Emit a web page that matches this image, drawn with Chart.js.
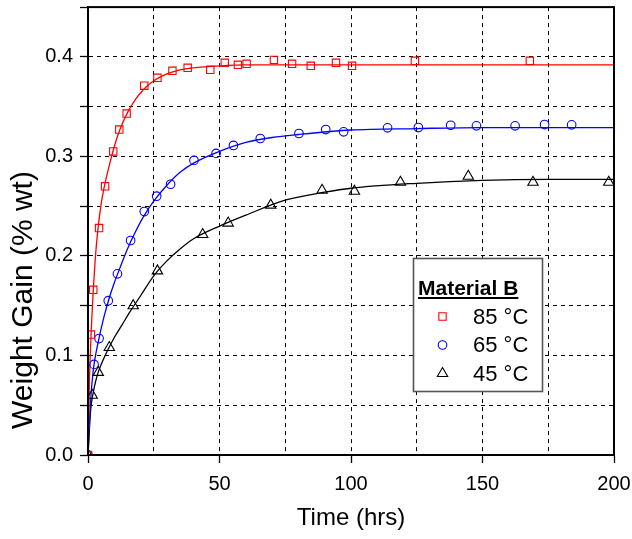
<!DOCTYPE html>
<html>
<head>
<meta charset="utf-8">
<script src="https://cdn.jsdelivr.net/npm/chart.js@4/dist/chart.umd.min.js"></script>
<style>
  html, body { margin: 0; padding: 0; background: #fff; }
  #wrap { width: 632px; height: 539px; }
</style>
</head>
<body>
<div id="wrap"><canvas id="c" width="632" height="539"></canvas></div>
<script>
// Measured weight gain (% wt) against exposure time (hrs)
const t85 = [0, 1.1, 2.0, 4.2, 6.5, 9.6, 11.9, 14.7, 21.4, 26.4, 32.1, 37.9, 46.5, 52.0, 57.0, 60.3, 70.7, 77.6, 84.7, 94.3, 100.4, 124.3, 168.0];
const w85 = [0, 0.121, 0.166, 0.228, 0.270, 0.305, 0.327, 0.343, 0.371, 0.379, 0.386, 0.389, 0.387, 0.394, 0.392, 0.393, 0.397, 0.393, 0.391, 0.394, 0.391, 0.396, 0.396];

const t65 = [0, 2.3, 4.2, 7.7, 11.2, 16.2, 21.4, 26.1, 31.4, 40.3, 48.7, 55.3, 65.5, 80.2, 90.4, 97.2, 113.9, 125.6, 137.9, 147.7, 162.4, 173.6, 183.9];
const w65 = [0, 0.091, 0.117, 0.155, 0.182, 0.2155, 0.2446, 0.260, 0.272, 0.296, 0.303, 0.311, 0.318, 0.323, 0.327, 0.3247, 0.3287, 0.329, 0.3313, 0.3307, 0.3307, 0.332, 0.3317];

const t45 = [0, 1.6, 3.9, 8.1, 17.2, 26.4, 43.6, 53.3, 69.5, 89.0, 101.3, 118.8, 144.6, 169.2, 198.0];
const w45 = [0, 0.060, 0.083, 0.108, 0.150, 0.185, 0.2215, 0.233, 0.251, 0.266, 0.265, 0.274, 0.280, 0.274, 0.274];

// Fitted uptake curves
const fitT85 = [0, 0.5, 1, 2, 3, 4, 5, 6, 8, 10, 12, 15, 18, 21, 25, 30, 35, 40, 50, 60, 80, 100, 150, 200];
const fitW85 = [0, 0.07, 0.11, 0.165, 0.205, 0.232, 0.252, 0.267, 0.290, 0.310, 0.326, 0.344, 0.357, 0.367, 0.376, 0.383, 0.387, 0.389, 0.391, 0.392, 0.392, 0.392, 0.392, 0.392];

const fitT65 = [0, 1, 2, 3, 4, 6, 8, 10, 12, 15, 18, 21, 25, 30, 35, 40, 50, 60, 70, 80, 100, 125, 150, 200];
const fitW65 = [0, 0.055, 0.085, 0.102, 0.115, 0.138, 0.157, 0.173, 0.187, 0.207, 0.224, 0.239, 0.255, 0.271, 0.284, 0.293, 0.305, 0.314, 0.319, 0.322, 0.3265, 0.328, 0.329, 0.329];

const fitT45 = [0, 1, 2, 3, 4, 6, 8, 10, 13, 16, 20, 25, 30, 35, 40, 50, 60, 75, 90, 100, 125, 150, 175, 200];
const fitW45 = [0, 0.045, 0.063, 0.075, 0.084, 0.097, 0.108, 0.118, 0.131, 0.144, 0.160, 0.180, 0.195, 0.207, 0.217, 0.230, 0.241, 0.256, 0.264, 0.268, 0.273, 0.276, 0.277, 0.277];

const seriesLabels = ['85 °C', '65 °C', '45 °C'];
const legendTitle = 'Material B';
const xTitle = 'Time (hrs)';
const yTitle = 'Weight Gain (% wt)';

const FONT = '"Liberation Sans", Arial, sans-serif';
const pts = (xs, ys) => xs.map((x, i) => ({ x: x, y: ys[i] }));

function markerSet(label, xs, ys, color, style, r) {
  return {
    label: label, data: pts(xs, ys), showLine: false,
    pointStyle: style, pointRadius: r, pointBorderColor: color,
    pointBackgroundColor: 'rgba(0,0,0,0)', pointBorderWidth: 1.1,
    borderColor: color, backgroundColor: 'rgba(0,0,0,0)', order: 1
  };
}
function fitSet(xs, ys, color) {
  return {
    data: pts(xs, ys), showLine: true, pointRadius: 0, borderColor: color,
    borderWidth: 1.3, cubicInterpolationMode: 'monotone', fill: false, order: 2
  };
}

const datasets = [
  fitSet(fitT85, fitW85, '#ff0000'),
  fitSet(fitT65, fitW65, '#0000ff'),
  fitSet(fitT45, fitW45, '#000000'),
  markerSet(seriesLabels[0], t85, w85, '#ff0000', 'rect', 5.2),
  markerSet(seriesLabels[1], t65, w65, '#0000ff', 'circle', 4.3),
  markerSet(seriesLabels[2], t45, w45, '#000000', 'triangle', 6)
];

// Closed frame around the plotting area, plus the rotated y-axis title
const framePlugin = {
  id: 'frame',
  afterDatasetsDraw(chart) {
    const { ctx, chartArea: a } = chart;
    ctx.save();
    ctx.strokeStyle = '#000';
    ctx.lineWidth = 2;
    ctx.strokeRect(a.left, a.top, a.right - a.left, a.bottom - a.top);
    ctx.restore();

    ctx.save();
    ctx.translate(24, 300);
    ctx.rotate(-Math.PI / 2);
    ctx.fillStyle = '#000';
    ctx.font = '30px ' + FONT;
    ctx.textAlign = 'center';
    ctx.textBaseline = 'middle';
    ctx.fillText(yTitle, 0, 0);
    ctx.restore();
  }
};

// Boxed key with an underlined heading
const keyPlugin = {
  id: 'key',
  afterDraw(chart) {
    const ctx = chart.ctx;
    const box = { x: 413.5, y: 258.5, w: 129, h: 133 };
    ctx.save();
    ctx.fillStyle = '#fff';
    ctx.fillRect(box.x, box.y, box.w, box.h);
    ctx.strokeStyle = '#555';
    ctx.lineWidth = 1.6;
    ctx.strokeRect(box.x, box.y, box.w, box.h);

    ctx.fillStyle = '#000';
    ctx.font = 'bold 21px ' + FONT;
    ctx.textBaseline = 'alphabetic';
    ctx.textAlign = 'left';
    ctx.fillText(legendTitle, 418, 295);
    const tw = ctx.measureText(legendTitle).width;
    ctx.fillRect(418, 297, tw, 2);

    ctx.font = '22px ' + FONT;
    ctx.textBaseline = 'middle';
    const rows = [316.5, 345, 373.5];
    const marks = chart.data.datasets.filter(d => d.label);
    marks.forEach((d, i) => {
      ctx.strokeStyle = d.pointBorderColor;
      ctx.fillStyle = 'rgba(0,0,0,0)';
      ctx.lineWidth = 1.1;
      Chart.helpers.drawPoint(ctx, { pointStyle: d.pointStyle, radius: d.pointRadius, rotation: 0, borderWidth: 1.1 }, 442.5, rows[i]);
      ctx.fillStyle = '#000';
      ctx.fillText(d.label, 473, rows[i] + 1);
    });
    ctx.restore();
  }
};

new Chart(document.getElementById('c'), {
  type: 'scatter',
  data: { datasets: datasets },
  plugins: [framePlugin, keyPlugin],
  options: {
    responsive: false,
    animation: false,
    events: [],
    layout: { padding: { top: 7, right: 18, left: 0, bottom: 0 } },
    plugins: { legend: { display: false }, tooltip: { enabled: false } },
    scales: {
      x: {
        type: 'linear', min: 0, max: 200,
        afterFit: s => { s.height = 84; s.paddingLeft = 0; s.paddingRight = 0; },
        ticks: {
          stepSize: 25, autoSkip: false, maxRotation: 0, padding: 9,
          color: '#000', font: { family: FONT, size: 20 },
          callback: v => (v % 50 === 0 ? String(v) : '')
        },
        grid: {
          color: '#000', lineWidth: 1, tickLength: 8, tickWidth: 1.3,
          tickColor: c => (c.tick && c.tick.value % 50 === 0 ? '#000' : 'rgba(0,0,0,0)')
        },
        border: { display: true, color: '#000', width: 2, dash: [4, 4] },
        title: {
          display: true, text: xTitle, color: '#000',
          font: { family: FONT, size: 24 }, padding: { top: 0, bottom: 6 }
        }
      },
      y: {
        type: 'linear', min: 0, max: 0.45,
        afterFit: s => { s.width = 88; s.paddingTop = 0; s.paddingBottom = 0; },
        ticks: {
          stepSize: 0.05, autoSkip: false, padding: 7,
          color: '#000', font: { family: FONT, size: 20 },
          callback: v => (Math.round(v * 20) % 2 === 0 ? v.toFixed(1) : '')
        },
        grid: { color: '#000', lineWidth: 1, tickLength: 8, tickWidth: 1.3, tickColor: '#000' },
        border: { display: true, color: '#000', width: 2, dash: [4, 4] },
        title: { display: false }
      }
    }
  }
});
</script>
</body>
</html>
